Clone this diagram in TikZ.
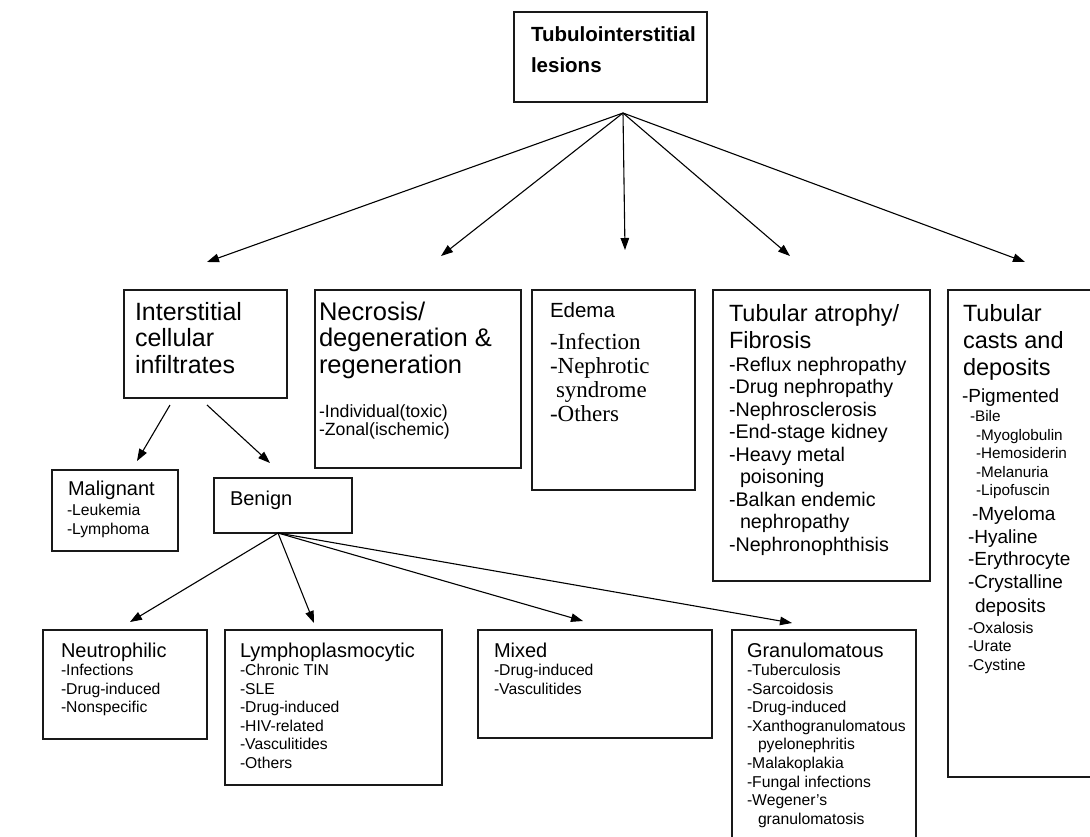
\documentclass[tikz,border=0pt]{standalone}
\usepackage{fontspec}
\setmainfont{Liberation Sans}
\newfontfamily\serifx{Liberation Serif}
\usetikzlibrary{arrows.meta,fit}
\newcommand\fs[1]{\fontsize{#1}{#1}\selectfont}
\newcommand\stack[6]{\foreach \t [count=\i from 0] in {#6}{\node[txt,font=#5] (#1\i) at (#2,{#3+\i*#4}) {\t};}}
\tikzset{
  box/.style={draw=black!90,line width=1.4pt,inner sep=0pt,outer sep=0pt},
  txt/.style={anchor=base west,inner sep=0pt,outer sep=0pt,text=black},
  arr/.style={draw=black,line width=1.1pt,-{Triangle[length=12pt,width=8.5pt]}}
}
\begin{document}
\begin{tikzpicture}[x=1pt,y=-1pt]
\useasboundingbox (0,0) rectangle (1090,836);
\clip (0,0) rectangle (1090,836);
\fill[white] (0,0) rectangle (1090,836);
% boxes
\node[box,fit={(514,12) (707,102)}] (top) {};
\node[box,fit={(124,290) (287,398)}] (inter) {};
\node[box,fit={(315,290) (521,468)}] (necro) {};
\node[box,fit={(532,290) (695,490)}] (edema) {};
\node[box,fit={(713,290) (930,581)}] (atro) {};
\node[box,fit={(948,290) (1100,777)}] (casts) {};
\node[box,fit={(52,470) (178,551)}] (malig) {};
\node[box,fit={(214,478) (352,533)}] (benign) {};
\node[box,fit={(43,630) (207,739)}] (neutro) {};
\node[box,fit={(225,630) (442,785)}] (lympho) {};
\node[box,fit={(478,630) (712,738)}] (mixed) {};
\node[box,fit={(732,630) (916,850)}] (granulo) {};
% texts
\stack{ti}{531}{41.5}{30.5}{\bfseries\fs{20.5}}{Tubulointerstitial,lesions}
\stack{ic}{135}{320}{26.5}{\fs{25}}{Interstitial,cellular,infiltrates}
\stack{nh}{319}{320}{26.5}{\fs{25.5}}{Necrosis/,degeneration \&,regeneration}
\stack{ni}{319}{417}{18.8}{\fs{17.7}}{-Individual(toxic),-Zonal(ischemic)}
\node[txt,font=\fs{20.5}] (eh) at (550,317) {Edema};
\stack{ei}{550}{349}{24}{\serifx\fs{23}}{-Infection,-Nephrotic,\hspace*{6pt}syndrome,-Others}
\stack{ah}{729}{321}{27}{\fs{23.5}}{Tubular atrophy/,Fibrosis}
\stack{ai}{729}{371}{22.5}{\fs{19.7}}{-Reflux nephropathy,-Drug nephropathy,-Nephrosclerosis,-End-stage kidney,-Heavy metal,\hspace*{11pt}poisoning,-Balkan endemic,\hspace*{11pt}nephropathy,-Nephronophthisis}
\stack{ch}{963}{321}{27}{\fs{23.5}}{Tubular,casts and,deposits}
\node[txt,font=\fs{19}] (cp) at (962,402) {-Pigmented};
\node[txt,font=\fs{15.3}] (cb) at (970,421) {-Bile};
\stack{cs}{976}{440}{18.5}{\fs{15.3}}{-Myoglobulin,-Hemosiderin,-Melanuria,-Lipofuscin}
\node[txt,font=\fs{19}] (cy) at (972,520) {-Myeloma};
\stack{cm}{968}{543}{22.5}{\fs{19}}{-Hyaline,-Erythrocyte,-Crystalline}
\node[txt,font=\fs{19}] (cd) at (975,612) {deposits};
\stack{cx}{968}{633}{18.7}{\fs{15.7}}{-Oxalosis,-Urate,-Cystine}
\node[txt,font=\fs{20}] (mh) at (68,495) {Malignant};
\stack{mi}{67}{515}{19.3}{\fs{15.7}}{-Leukemia,-Lymphoma}
\node[txt,font=\fs{20}] (bh) at (230,505) {Benign};
\node[txt,font=\fs{20}] (nuh) at (61,657) {Neutrophilic};
\stack{nui}{61}{675.5}{18.6}{\fs{15.7}}{-Infections,-Drug-induced,-Nonspecific}
\node[txt,font=\fs{20}] (lyh) at (240,657) {Lymphoplasmocytic};
\stack{lyi}{240}{675.5}{18.6}{\fs{15.7}}{-Chronic TIN,-SLE,-Drug-induced,-HIV-related,-Vasculitides,-Others}
\node[txt,font=\fs{20}] (mxh) at (494,657) {Mixed};
\stack{mxi}{494}{675.5}{18.6}{\fs{15.7}}{-Drug-induced,-Vasculitides}
\node[txt,font=\fs{20}] (grh) at (747,657) {Granulomatous};
\stack{gri}{747}{675.5}{18.6}{\fs{15.7}}{-Tuberculosis,-Sarcoidosis,-Drug-induced,-Xanthogranulomatous,\hspace*{11pt}pyelonephritis,-Malakoplakia,-Fungal infections,-Wegener’s,\hspace*{11pt}granulomatosis}
% connector end points
\coordinate (apex) at (623,113);
\coordinate (t1) at (207,262);
\coordinate (t2) at (441,256);
\coordinate (t3) at (625,250);
\coordinate (t4) at (790,256);
\coordinate (t5) at (1025,262);
\coordinate (s1) at (170,405);
\coordinate (s2) at (207,405);
\coordinate (tm) at (137,461);
\coordinate (tb) at (270,463);
\coordinate (bp) at (278,533);
\coordinate (u1) at (130,622);
\coordinate (u2) at (314,623);
\coordinate (u3) at (583,621);
\coordinate (u4) at (792,623);
\foreach \e in {t1,t2,t3,t4,t5} \draw[arr] (apex) -- (\e);
\draw[arr] (s1) -- (tm);
\draw[arr] (s2) -- (tb);
\foreach \e in {u1,u2,u3,u4} \draw[arr] (bp) -- (\e);
\end{tikzpicture}
\end{document}
